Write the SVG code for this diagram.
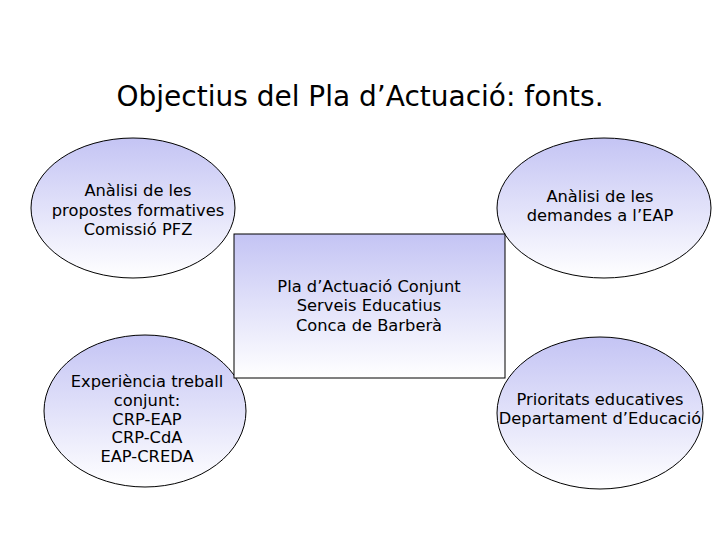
<svg xmlns="http://www.w3.org/2000/svg" width="720" height="540" viewBox="0 0 720 540">
<defs>
<linearGradient id="g" x1="0" y1="0" x2="0" y2="1">
<stop offset="0" stop-color="#c4c4f4"/>
<stop offset="1" stop-color="#ffffff"/>
</linearGradient>
</defs>
<style>
.s{fill:url(#g);stroke:#000;stroke-width:1}
.t{font-family:"DejaVu Sans",Verdana,sans-serif;font-size:16.3px;fill:#000;text-anchor:middle}
.h{font-family:"DejaVu Sans",Verdana,sans-serif;font-size:28px;fill:#000;text-anchor:middle}
</style>
<rect width="720" height="540" fill="#fff"/>
<text class="h" x="360" y="106">Objectius del Pla d’Actuació: fonts.</text>
<g id="connectors"></g>
<g id="n1"><ellipse class="s" cx="133" cy="208" rx="102" ry="70"/>
<text class="t" x="138" y="196">Anàlisi de les</text>
<text class="t" x="138" y="216">propostes formatives</text>
<text class="t" x="138" y="235">Comissió PFZ</text></g>
<g id="n2"><ellipse class="s" cx="604" cy="208" rx="107" ry="70"/>
<text class="t" x="600" y="202">Anàlisi de les</text>
<text class="t" x="600" y="221">demandes a l’EAP</text></g>
<g id="n3"><ellipse class="s" cx="145" cy="411" rx="101" ry="76"/>
<text class="t" x="147" y="387">Experiència treball</text>
<text class="t" x="147" y="406">conjunt:</text>
<text class="t" x="147" y="425">CRP-EAP</text>
<text class="t" x="147" y="443">CRP-CdA</text>
<text class="t" x="147" y="462">EAP-CREDA</text></g>
<g id="n4"><ellipse class="s" cx="600" cy="413" rx="103" ry="76"/>
<text class="t" x="600" y="405">Prioritats educatives</text>
<text class="t" x="600" y="424">Departament d’Educació</text></g>
<g id="n5"><rect class="s" x="234" y="234" width="271" height="144"/>
<text class="t" x="369" y="292">Pla d’Actuació Conjunt</text>
<text class="t" x="369" y="311">Serveis Educatius</text>
<text class="t" x="369" y="331">Conca de Barberà</text></g>
</svg>
